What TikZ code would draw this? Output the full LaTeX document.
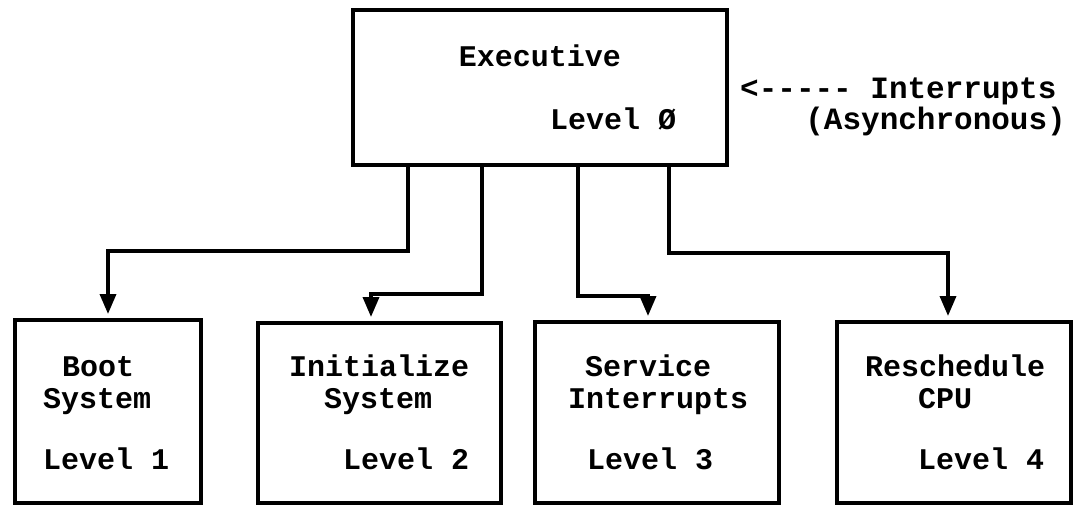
\documentclass[tikz,border=0pt]{standalone}
\usepackage{fontspec}
\setmonofont{Liberation Mono}
\usetikzlibrary{arrows.meta}
\begin{document}
\begin{tikzpicture}[x=1pt,y=-1pt,
  box/.style={draw, line width=3.5pt, rectangle, inner sep=0pt, outer sep=0pt, anchor=north west},
  txt/.style={font=\ttfamily\bfseries\fontsize{30}{34}\selectfont, inner sep=0pt, anchor=base west},
  note/.style={font=\ttfamily\bfseries\fontsize{31}{35}\selectfont, inner sep=0pt},
  conn/.style={line width=3.5pt, -{Triangle[width=16pt,length=20pt]}, shorten >=6pt}]
\useasboundingbox (0,0) rectangle (1073,508);
% boxes
\node[box, minimum width=374pt, minimum height=155pt] (exec) at (353,10) {};
\node[box, minimum width=186pt, minimum height=183pt] (b1) at (15,320) {};
\node[box, minimum width=243pt, minimum height=180pt] (b2) at (258,323) {};
\node[box, minimum width=244pt, minimum height=181pt] (b3) at (535,322) {};
\node[box, minimum width=234pt, minimum height=181pt] (b4) at (837,322) {};
% connectors
\draw[conn] (408,0 |- exec.south) -- (408,251) -| (108,0 |- b1.north);
\draw[conn] (482,0 |- exec.south) -- (482,294) -| (371,0 |- b2.north);
\draw[conn] (578,0 |- exec.south) -- (578,296) -| (648,0 |- b3.north);
\draw[conn] (669,0 |- exec.south) -- (669,253) -| (948,0 |- b4.north);
% texts
\node[txt, anchor=base] (e1) at (540,67) {Executive};
\node[txt] (e2) at (550,130) {Level Ø};
\node[note, anchor=base west] (i1) at (740,99) {<-{}-{}-{}-{}- Interrupts};
\node[note, anchor=base east] (i2) at (1066,130) {(Asynchronous)};
\node[txt] (t1a) at (62,376) {Boot};
\node[txt] (t1b) at (43,408) {System};
\node[txt] (t1c) at (43,469) {Level 1};
\node[txt] (t2a) at (289,376) {Initialize};
\node[txt] (t2b) at (324,408) {System};
\node[txt] (t2c) at (343,469) {Level 2};
\node[txt] (t3a) at (585,376) {Service};
\node[txt] (t3b) at (568,408) {Interrupts};
\node[txt] (t3c) at (587,469) {Level 3};
\node[txt] (t4a) at (865,376) {Reschedule};
\node[txt] (t4b) at (918,408) {CPU};
\node[txt] (t4c) at (918,469) {Level 4};
\end{tikzpicture}
\end{document}
